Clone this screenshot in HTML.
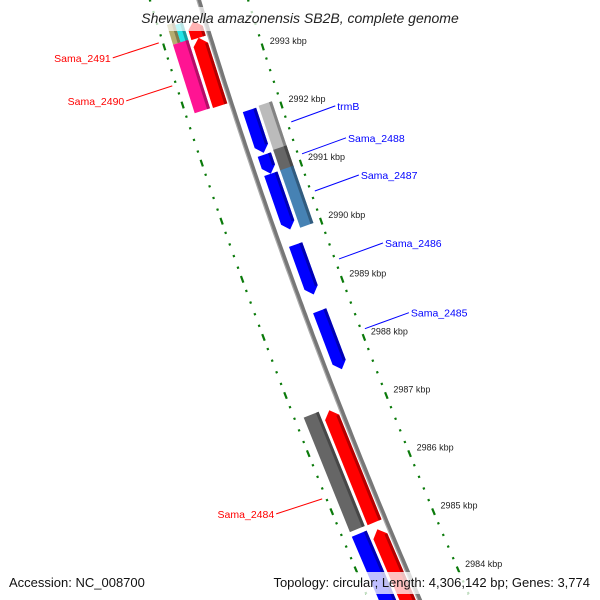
<!DOCTYPE html>
<html><head><meta charset="utf-8"><style>
html,body{margin:0;padding:0;background:#fff;width:600px;height:600px;overflow:hidden;}
svg{display:block;font-family:"Liberation Sans","DejaVu Sans",sans-serif;overflow:hidden;}
</style></head><body>
<svg id="map" width="600" height="600" viewBox="0 0 600 600" xmlns="http://www.w3.org/2000/svg">
<g id="dots"></g>
<g id="feat"></g>
<g id="bb"></g>
<g id="ticklab"></g>
<g id="labels"></g>
<rect x="125" y="7" width="350" height="24" fill="#fff" fill-opacity="0.7"/>
<text x="300" y="23" text-anchor="middle" font-size="14" font-style="italic" fill="#222">Shewanella amazonensis SB2B, complete genome</text>
<rect x="5" y="572" width="590" height="22" fill="#fff" fill-opacity="0.75"/>
<text x="9" y="587" font-size="13" fill="#111">Accession: NC_008700</text>
<text x="590" y="587" text-anchor="end" font-size="13" fill="#111">Topology: circular; Length: 4,306,142 bp; Genes: 3,774</text>
</svg>
<script>
// data
const tickKbp = [2993, 2992, 2991, 2990, 2989, 2988, 2987, 2986, 2985, 2984];
const geneStart = [2993.38, 2993.38, 2993.04, 2986.62, 2984.57, 2993.41, 2993.12, 2986.70, 2984.65, 2991.88, 2991.11, 2990.78, 2989.56, 2988.42, 2991.99, 2991.23, 2990.88];
const geneEnd   = [2993.04, 2993.04, 2991.86, 2984.65, 2983.20, 2993.12, 2991.95, 2984.77, 2983.20, 2991.14, 2990.78, 2989.82, 2988.70, 2987.41, 2991.19, 2990.85, 2989.89];
const geneTrack = ["D1", "D2", "D", "D", "D", "C", "C", "C", "C", "B", "B", "B", "B", "B", "A", "A", "A"];
const geneColor = ["#b5ad70", "#22e5e8", "#ff1493", "#666666", "#0000ff", "#ff0000", "#ff0000", "#ff0000", "#ff0000", "#0000ff", "#0000ff", "#0000ff", "#0000ff", "#0000ff", "#bbbbbb", "#666666", "#4682b4"];
const geneArrow = [0, 0, 0, 0, 0, 1, 1, 1, 1, 1, 1, 1, 1, 1, 0, 0, 0];
const labelText = ["Sama_2491", "Sama_2490", "trmB", "Sama_2488", "Sama_2487", "Sama_2486", "Sama_2485", "Sama_2484"];
const labelColor = ["#ff0000", "#ff0000", "#0000ff", "#0000ff", "#0000ff", "#0000ff", "#0000ff", "#ff0000"];
const labelAnchorKbp = [2993.07, 2992.33, 2991.71, 2991.16, 2990.52, 2989.35, 2988.15, 2985.22];
const labelSide = [-1, -1, 1, 1, 1, 1, 1, -1];

const NS = "http://www.w3.org/2000/svg";
function yOf(k){ return (2993.81 - k) * 58.1; }
function bbX(y){ return 199 + 0.3031*y + 1.088e-4*y*y; }
function slope(y){ return 0.3031 + 2*1.088e-4*y; }
// point with perpendicular offset d; offset "ref" lands exactly at screen y
function pt(y, d, ref){
  if (ref === undefined) ref = d;
  const s0 = slope(y), n0 = Math.sqrt(1+s0*s0);
  const ya = y + ref*s0/n0;
  const s = slope(ya), n = Math.sqrt(1+s*s);
  return [bbX(ya) + d/n, ya - d*s/n];
}
function el(tag, attrs, parent){
  const e = document.createElementNS(NS, tag);
  for (const k in attrs) e.setAttribute(k, attrs[k]);
  parent.appendChild(e); return e;
}
function shade(c, f){
  const v = parseInt(c.slice(1),16);
  const r=Math.round(((v>>16)&255)*f), g=Math.round(((v>>8)&255)*f), b=Math.round((v&255)*f);
  return "rgb("+r+","+g+","+b+")";
}
const tracks = {A:[25,39], B:[8,22], C:[-19,-4], D:[-38,-22], D1:[-38,-30], D2:[-30,-22]};

// backbone
const bbG = document.getElementById('bb');
let d1 = "", d2 = "";
for (let y=-10; y<=610; y+=5){ const p=pt(y,0), q=pt(y,-2); d1 += (y<-9?"M":"L")+p[0].toFixed(1)+","+p[1].toFixed(1); d2 += (y<-9?"M":"L")+q[0].toFixed(1)+","+q[1].toFixed(1); }
const bl = el('path', {d:d1, stroke:"#777", "stroke-width":4, fill:"none"}, bbG);


const bl2 = el('path', {d:d2, stroke:"#aaa", "stroke-width":1.2, fill:"none"}, bbG);



// dotted tick tracks
const dotG = document.getElementById('dots');
function tickLine(side, k, major){
  const y = yOf(k), dd = side*47;
  const len = major ? 3.5 : 1.1;
  const a = pt(y, dd), s = slope(y), n = Math.sqrt(1+s*s);
  const tx = s/n*len, ty = 1/n*len;
  const t = el('line', {x1:a[0]-tx, y1:a[1]-ty, x2:a[0]+tx, y2:a[1]+ty, stroke:"#0a7a0a", "stroke-width": 2.2}, dotG);
  
  
}
for (let i=0; i<=60; i++){
  const k = 2995 - i*0.2;
  const major = Math.abs(k - Math.round(k)) < 0.01;
  tickLine(1, k, major);
  tickLine(-1, k, major);
}
// tick labels
const tlG = document.getElementById('ticklab');
tickKbp.forEach(k=>{
  const p = pt(yOf(k), 47);
  const t = el('text', {x:p[0]+7, y:p[1]-3, "font-size":9, fill:"#222"}, tlG);
  
  
  t.textContent = k + " kbp";
});

// genes
const fG = document.getElementById('feat');
geneStart.forEach((ks,i)=>{
  const y1 = yOf(ks), y2 = yOf(geneEnd[i]);
  const [o1,o2] = tracks[geneTrack[i]];
  const om = (o1+o2)/2, ah = 7;
  const tr = geneTrack[i];
  const P = (y,d)=>pt(y,d,o1);
  let pts;
  if (geneArrow[i] && tr==="B"){
    pts = [P(y1,o1), P(y1,o2), P(y2-ah,o2), P(y2,om), P(y2-ah,o1)];
  } else if (geneArrow[i] && tr==="C"){
    pts = [P(y1+ah,o1), P(y1,om), P(y1+ah,o2), P(y2,o2), P(y2,o1)];
  } else {
    pts = [P(y1,o1), P(y1,o2), P(y2,o2), P(y2,o1)];
  }
  const g = el('g', {}, fG);
  
  
  el('polygon', {points: pts.map(p=>p[0].toFixed(1)+","+p[1].toFixed(1)).join(" "), fill: geneColor[i]}, g);
  const sw = 3;
  const ya = y1+(tr==="C"&&geneArrow[i]?ah:0), yb = y2-(tr==="B"&&geneArrow[i]?ah:0);
  const sp = [P(ya, o2-sw), P(ya, o2), P(yb, o2), P(yb, o2-sw)];
  el('polygon', {points: sp.map(p=>p[0].toFixed(1)+","+p[1].toFixed(1)).join(" "), fill: shade(geneColor[i], 0.7)}, g);
});

// labels
const lG = document.getElementById('labels');
labelText.forEach((txt,i)=>{
  const y = yOf(labelAnchorKbp[i]);
  const side = labelSide[i];
  const a = pt(y, side*51);
  let ex, ey;
  if (side>0){ ex = a[0]+44; ey = a[1]-16; } else { ex = a[0]-46; ey = a[1]+15; }
  const ln = el('line', {x1:a[0], y1:a[1], x2:ex, y2:ey, stroke:labelColor[i], "stroke-width":1}, lG);
  
  
  const t = el('text', {x: side>0 ? ex+2 : ex-2, y: ey+4, "font-size":10.5, fill:labelColor[i], "text-anchor": side>0?"start":"end"}, lG);
  
  
  t.textContent = txt;
});
</script>
</body></html>
